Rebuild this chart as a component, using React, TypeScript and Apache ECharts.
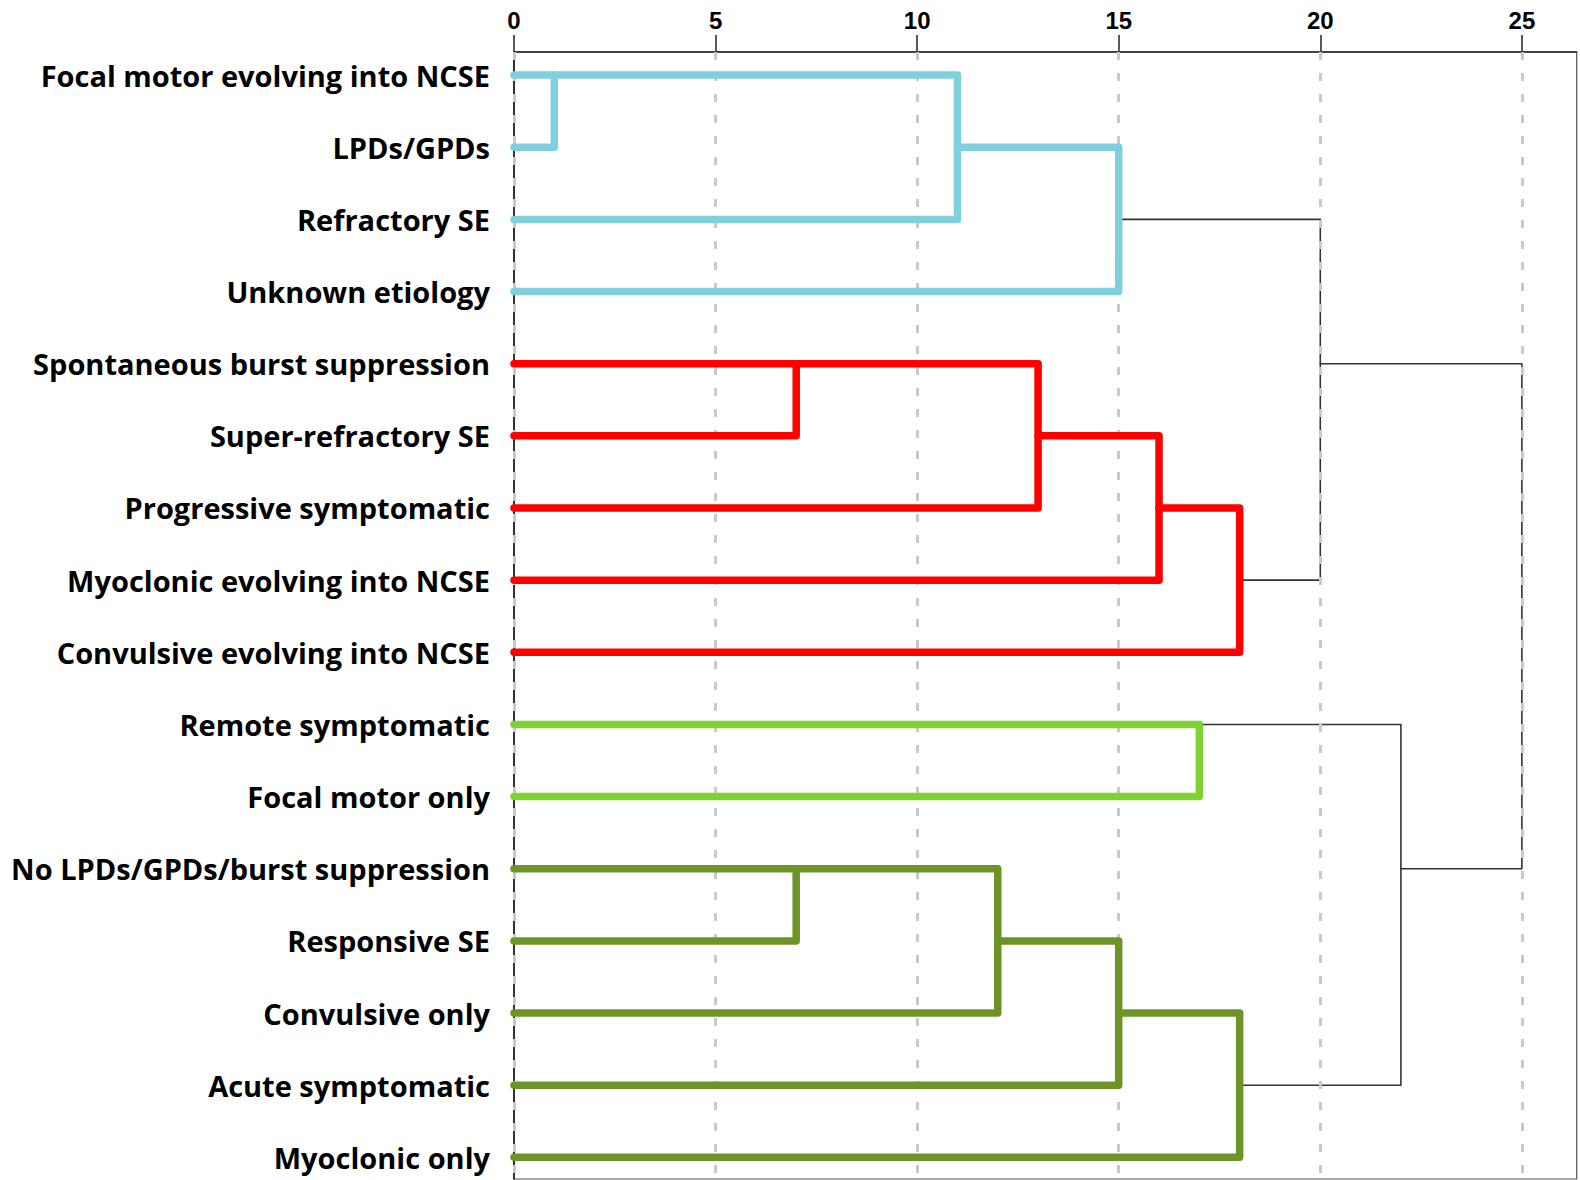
import React, { useEffect, useRef } from "react";
import * as echarts from "echarts";

// Leaves, top to bottom
const leafLabels = [
  "Focal motor evolving into NCSE",
  "LPDs/GPDs",
  "Refractory SE",
  "Unknown etiology",
  "Spontaneous burst suppression",
  "Super-refractory SE",
  "Progressive symptomatic",
  "Myoclonic evolving into NCSE",
  "Convulsive evolving into NCSE",
  "Remote symptomatic",
  "Focal motor only",
  "No LPDs/GPDs/burst suppression",
  "Responsive SE",
  "Convulsive only",
  "Acute symptomatic",
  "Myoclonic only",
];

// Agglomeration steps: ids < 16 are leaves, id 16 + k is the node made at step k
const mergeLeft = [0, 16, 17, 4, 19, 20, 21, 18, 9, 11, 25, 26, 27, 24, 23];
const mergeRight = [1, 2, 3, 5, 6, 7, 8, 22, 10, 12, 13, 14, 15, 28, 29];
const mergeDistance = [1, 11, 15, 7, 13, 16, 18, 20, 17, 7, 12, 15, 18, 22, 25];
const mergeCluster = [
  "cyan", "cyan", "cyan",
  "red", "red", "red", "red",
  "none",
  "lime",
  "olive", "olive", "olive", "olive",
  "none", "none",
];

const distanceTicks = [0, 5, 10, 15, 20, 25];

const clusterColors: Record<string, string> = {
  cyan: "#80CFDE",
  red: "#FF0000",
  lime: "#7ED332",
  olive: "#6C9426",
  none: "#333333",
};

function buildLinkSeries() {
  const nLeaves = leafLabels.length;
  const posX: number[] = [];
  const posY: number[] = [];
  for (let i = 0; i < nLeaves; i++) {
    posX[i] = 0;
    posY[i] = i;
  }
  const series: any[] = [];
  mergeLeft.forEach((a, k) => {
    const b = mergeRight[k];
    const h = mergeDistance[k];
    const id = nLeaves + k;
    posX[id] = h;
    posY[id] = Math.floor((posY[a] + posY[b]) / 2);
    const key = mergeCluster[k];
    const coloured = key !== "none";
    series.push({
      type: "line",
      name: "link" + k,
      data: [
        [posX[a], posY[a]],
        [h, posY[a]],
        [h, posY[b]],
        [posX[b], posY[b]],
      ],
      symbol: "none",
      silent: true,
      z: coloured ? 4 : 2,
      lineStyle: {
        color: clusterColors[key],
        width: coloured ? 7.5 : 1.6,
        cap: "round",
        join: "round",
      },
    });
  });
  return series;
}

export default function App() {
  const ref = useRef<HTMLDivElement>(null);

  useEffect(() => {
    if (!ref.current) return;
    const chart = echarts.init(ref.current, null, { renderer: "svg" });
    const option: any = {
      animation: false,
      backgroundColor: "#ffffff",
      grid: {
        left: 514,
        top: 52,
        right: 3.3,
        bottom: 1,
        show: true,
        borderColor: "#555",
        borderWidth: 1.2,
        backgroundColor: "transparent",
      },
      xAxis: {
        type: "value",
        position: "top",
        min: 0,
        max: 26.36,
        axisLine: { show: true, onZero: false, lineStyle: { color: "#222", width: 1.5 } },
        axisTick: {
          show: true,
          length: 17,
          inside: false,
          customValues: distanceTicks,
          lineStyle: { color: "#222", width: 1.5 },
        },
        axisLabel: {
          show: true,
          customValues: distanceTicks,
          margin: 20,
          color: "#000",
          fontSize: 24,
          fontWeight: "bold",
          fontFamily: "Liberation Sans, Arial, sans-serif",
        },
        splitLine: { show: false },
      },
      yAxis: {
        type: "value",
        inverse: true,
        min: -0.32,
        max: 15.3,
        axisLine: { show: true, onZero: false, lineStyle: { color: "#111", width: 1.5 } },
        axisTick: { show: false },
        splitLine: { show: false },
        axisLabel: {
          show: true,
          customValues: leafLabels.map((_, i) => i),
          formatter: (v: number) => leafLabels[Math.round(v)] ?? "",
          margin: 24,
          color: "#000",
          fontSize: 29,
          fontWeight: "bold",
          fontFamily: "Open Sans, sans-serif",
        },
      },
      series: [
        {
          type: "line",
          name: "grid",
          data: [],
          symbol: "none",
          silent: true,
          z: 3,
          markLine: {
            silent: true,
            z: 3,
            symbol: ["none", "none"],
            label: { show: false },
            lineStyle: { type: [8, 13], color: "#c9c9c9", width: 3 },
            data: distanceTicks.map((v) => ({ xAxis: v })),
          },
        },
        ...buildLinkSeries(),
      ],
    };
    chart.setOption(option);
    return () => chart.dispose();
  }, []);

  return (
    <div
      ref={ref}
      style={{ position: "fixed", left: 0, top: 0, width: 1580, height: 1180 }}
    />
  );
}
